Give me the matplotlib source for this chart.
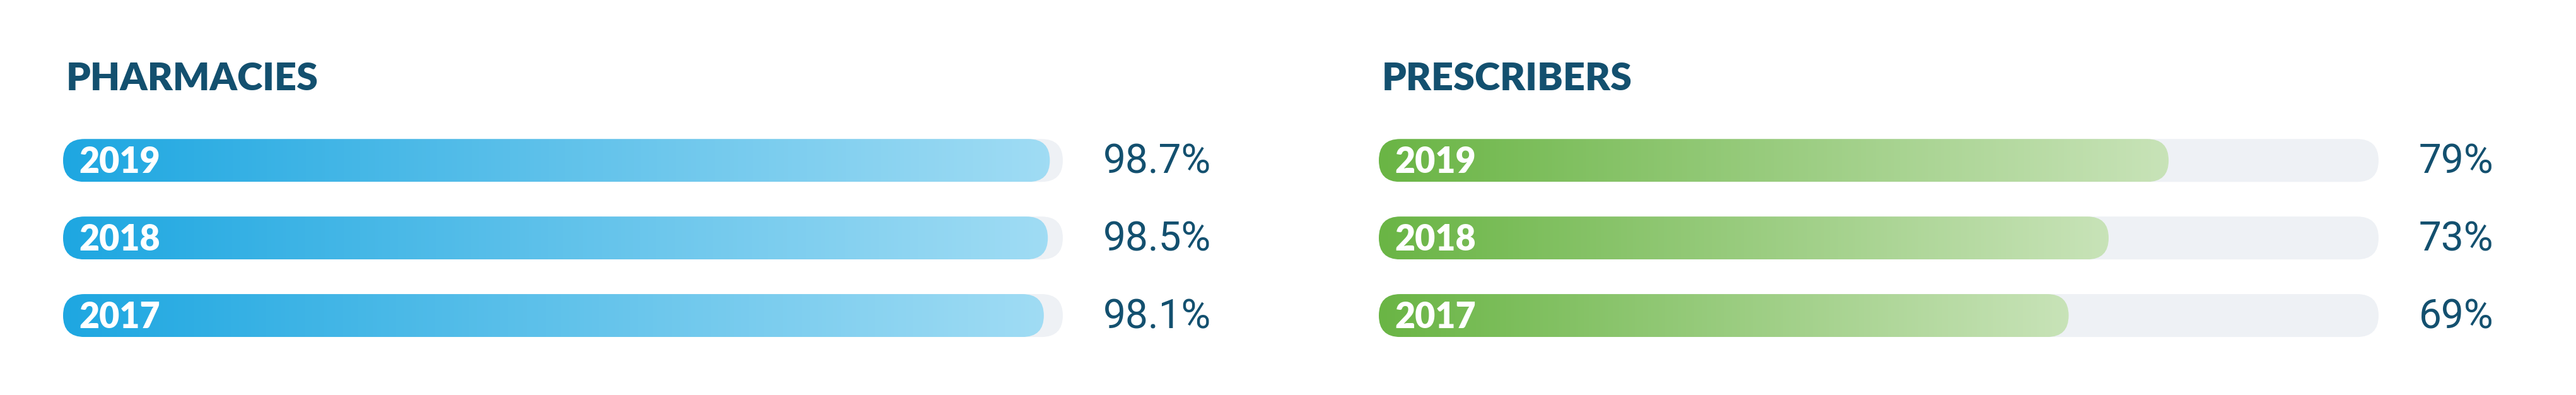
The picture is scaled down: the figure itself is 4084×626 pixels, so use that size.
import numpy as np
import matplotlib
matplotlib.use("Agg")
import matplotlib.pyplot as plt
from matplotlib.patches import FancyBboxPatch

# data
years = ["2019", "2018", "2017"]
pharmacies = [98.7, 98.5, 98.1]
prescribers = [79, 73, 69]
pharm_labels = ["98.7%", "98.5%", "98.1%"]
presc_labels = ["79%", "73%", "69%"]

W, H = 4084, 626
fig = plt.figure(figsize=(W / 100, H / 100), dpi=100)

navy = "#13506f"
track = "#eef1f5"


def panel(left_px, title, vals, labels, c0, c1):
    width_px = 1585
    ax = fig.add_axes([left_px / W, 0.103, width_px / W, 0.589])
    ax.set_xlim(0, 100)
    ax.set_ylim(2.5, -0.5)
    ax.axis("off")
    xpp = 100 / width_px
    ypp = 3 / (0.589 * H)
    asp = ypp / xpp
    h = 68 * ypp
    r = 34 * xpp
    grad = np.linspace(0, 1, 256)[None, :, None]
    c0 = np.array(matplotlib.colors.to_rgb(c0))
    c1 = np.array(matplotlib.colors.to_rgb(c1))
    img = c0 + (c1 - c0) * grad
    for i, v in enumerate(vals):
        bg = FancyBboxPatch((0, i - h / 2), 100, h,
                            boxstyle=f"round,pad=0,rounding_size={r}",
                            mutation_aspect=asp, fc=track, ec="none")
        ax.add_patch(bg)
        fg = FancyBboxPatch((0, i - h / 2), v, h,
                            boxstyle=f"round,pad=0,rounding_size={r}",
                            mutation_aspect=asp, fc="none", ec="none")
        ax.add_patch(fg)
        im = ax.imshow(img, extent=(0, v, i + h / 2, i - h / 2),
                       aspect="auto", zorder=2)
        im.set_clip_path(fg)
        ax.text(1.6, i + 0.02, years[i], color="white", fontsize=40,
                fontweight="heavy", va="center", ha="left", zorder=3,
                family="Lato")
        ax.text(104.0, i + 0.02, labels[i], color=navy, fontsize=46,
                va="center", ha="left", family="Roboto")
    ax.text(0.3, -1.05, title, color=navy, fontsize=44, fontweight="heavy",
            va="center", ha="left", family="Lato")
    ax.set_xlim(0, 100)
    ax.set_ylim(2.5, -0.5)


panel(100, "PHARMACIES", pharmacies, pharm_labels, "#1ea7e1", "#a0dcf4")
panel(2186, "PRESCRIBERS", prescribers, presc_labels, "#6ab545", "#c8e3b8")

fig.savefig("out.png", dpi=100, facecolor="white")
